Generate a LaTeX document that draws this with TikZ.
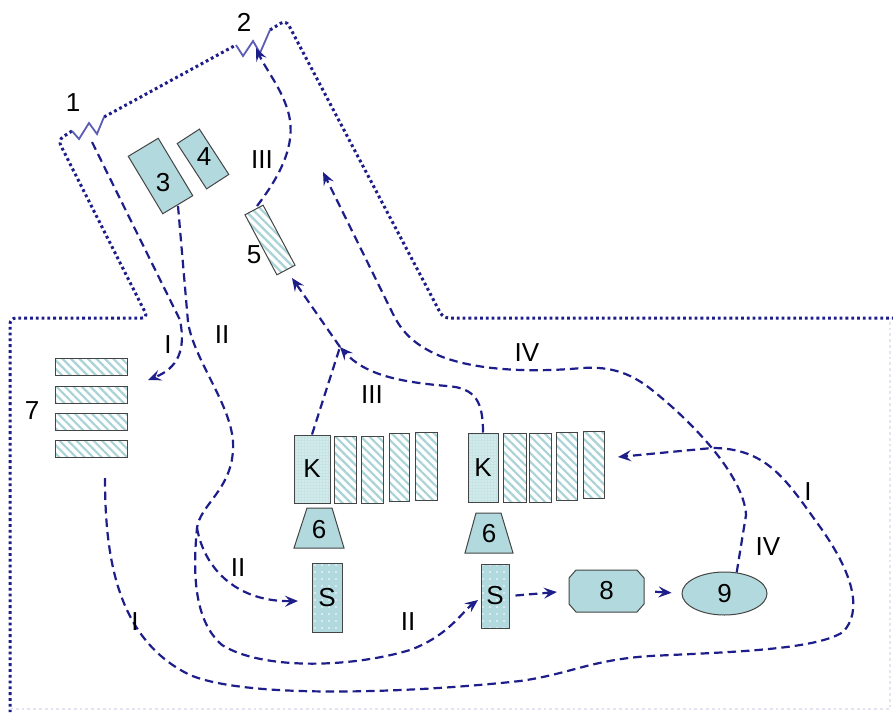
\documentclass[tikz,border=0pt]{standalone}
\usepackage{fontspec}
\setmainfont{Liberation Sans}
\usetikzlibrary{arrows.meta,patterns,patterns.meta,shapes.geometric,shapes.misc}
\definecolor{navy}{HTML}{1E1E8A}
\definecolor{zig}{HTML}{5C5CB4}
\definecolor{teal}{HTML}{B2D9DD}
\definecolor{hatch}{HTML}{A9D3D7}
\definecolor{kfill}{HTML}{C6E4E6}
\definecolor{edge}{HTML}{454545}
\tikzset{
  txt/.style={font=\fontsize{26}{28}\selectfont, inner sep=0pt},
  solidbox/.style={draw=edge, line width=1pt, fill=teal, inner sep=0pt},
  hatchbox/.style={draw=edge, line width=1pt, inner sep=0pt, preaction={fill=white},
     pattern={Lines[angle=-45,distance=6pt,line width=2.2pt]}, pattern color=hatch},
  kbox/.style={draw=edge, line width=1pt, inner sep=0pt, preaction={fill=kfill},
     pattern={Dots[radius=0.7pt,distance=3pt]}, pattern color=white},
  sbox/.style={draw=edge, line width=1pt, inner sep=0pt, preaction={fill=teal},
     pattern={Dots[radius=0.8pt,distance=7pt]}, pattern color=white},
  trap/.style={draw=edge, line width=1pt, fill=teal},
  flow/.style={draw=navy, line width=2.2pt, dash pattern=on 8.5pt off 5pt},
  arr/.style={-{Stealth[length=13pt,width=11pt,inset=5pt]}},
  outline/.style={draw=navy, line width=3pt, line cap=butt, dash pattern=on 2.8pt off 3pt},
  zigline/.style={draw=zig, line width=1.8pt, line join=miter},
}
\begin{document}
\begin{tikzpicture}[x=1pt,y=-1pt]
\useasboundingbox (0,0) rectangle (893,712);
\fill[white] (0,0) rectangle (893,712);

% ---------- outline ----------
\draw[outline, rounded corners=6pt] (72,131) -- (58,140) -- (148,318) -- (10,318) -- (10,712);
\draw[outline] (104,117) -- (236,45);
\draw[outline, rounded corners=6pt] (270,30) -- (286,20) -- (443,318) -- (893,318);
\draw[navy!12, line width=2.6pt, line cap=butt, dash pattern=on 2.8pt off 3pt] (10,709) -- (890,709) -- (890,318);
\draw[zigline] (72,131) -- (79,139) -- (89,123) -- (97,134) -- (104,117);
\draw[zigline] (236,45) -- (243,56) -- (253,41) -- (260,53) -- (270,30);
\node[txt] (l1) at (73,103) {1};
\node[txt] (l2) at (244,22) {2};

% ---------- upper components ----------
\node[solidbox, minimum width=35pt, minimum height=67pt, rotate=31] (b3) at (160.5,176) {};
\node[txt] (t3) at (163,183) {3};
\node[solidbox, minimum width=26.5pt, minimum height=54pt, rotate=33] (b4) at (203,159) {};
\node[txt] (t4) at (204,157) {4};
\node[hatchbox, minimum width=20.5pt, minimum height=68pt, rotate=28] (b5) at (270,240) {};
\node[txt] (t5) at (254,255) {5};

% ---------- block 7 ----------
\node[hatchbox, minimum width=72pt, minimum height=17pt] (s71) at (91,366.5) {};
\node[hatchbox, minimum width=72pt, minimum height=17pt] (s72) at (91,395) {};
\node[hatchbox, minimum width=72pt, minimum height=17pt] (s73) at (91,422) {};
\node[hatchbox, minimum width=72pt, minimum height=17pt] (s74) at (91,449) {};
\node[txt] (t7) at (32,411) {7};

% ---------- row 1 ----------
\node[kbox, minimum width=36pt, minimum height=68pt] (k1) at (312,469) {};
\node[txt] at (k1) {K};
\node[hatchbox, minimum width=22pt, minimum height=67pt] (r1a) at (345,469.5) {};
\node[hatchbox, minimum width=22pt, minimum height=67pt] (r1b) at (372,469.5) {};
\node[hatchbox, minimum width=20pt, minimum height=68pt] (r1c) at (399,467) {};
\node[hatchbox, minimum width=22pt, minimum height=68pt] (r1d) at (426,466) {};
\draw[trap] (294,548) -- (307,508) -- (332,508) -- (344,548) -- cycle;
\node[txt] (p1) at (319,530) {6};
\node[sbox, minimum width=30pt, minimum height=69pt] (sa) at (327,597.5) {};
\node[txt] at (sa) {S};

% ---------- row 2 ----------
\node[kbox, minimum width=30pt, minimum height=69pt] (k2) at (483,467.5) {};
\node[txt] at (k2) {K};
\node[hatchbox, minimum width=23pt, minimum height=69pt] (r2a) at (514.5,467.5) {};
\node[hatchbox, minimum width=22pt, minimum height=69pt] (r2b) at (540,467.5) {};
\node[hatchbox, minimum width=21pt, minimum height=68pt] (r2c) at (566.5,466) {};
\node[hatchbox, minimum width=21pt, minimum height=67pt] (r2d) at (593.5,464.5) {};
\draw[trap] (465,553) -- (476,513) -- (501,513) -- (513,553) -- cycle;
\node[txt] (p2) at (489,534) {6};
\node[sbox, minimum width=28pt, minimum height=64pt] (sb) at (495,596) {};
\node[txt] at (sb) {S};
\draw[trap] (569,578) -- (576,570) -- (637,570) -- (644,578) -- (644,604) -- (637,612) -- (576,612) -- (569,604) -- cycle;
\node[txt, minimum width=75pt, minimum height=42pt] (n8) at (606.5,591) {8};
\node[solidbox, ellipse, minimum width=85pt, minimum height=43pt] (n9) at (724.5,593.5) {};
\node[txt] at (n9) {9};

% ---------- flows ----------
\coordinate (m) at (340,347);
\coordinate (j) at (197,528);
% I
\draw[flow, arr] (92,142) -- (180,320) .. controls (186,350) and (178,368) .. (148,380);
\draw[flow, arr] (105,478) .. controls (105,560) and (118,640) .. (190,675)
   .. controls (250,700) and (420,692) .. (520,681)
   .. controls (570,674) and (590,660) .. (650,656)
   .. controls (730,652) and (815,650) .. (843,632)
   .. controls (862,612) and (856,575) .. (815,520)
   .. controls (785,478) and (765,448) .. (712,448) -- (618,457);
% II
\draw[flow, arr] (178,206) -- (188,322) .. controls (194,362) and (236,410) .. (233,450)
   .. controls (231,490) and (200,505) .. (j)
   .. controls (193,570) and (193,620) .. (222,645)
   .. controls (262,670) and (350,668) .. (410,650)
   .. controls (448,636) and (462,612) .. (478,600);
\draw[flow, arr] (j) .. controls (205,572) and (240,602) .. (298,601);
% III
\draw[flow] (k1.north) -- (m);
\draw[flow, arr] (k2.north) .. controls (483,402) and (476,388) .. (447,386)
   .. controls (400,382) and (365,375) .. (m);
\draw[flow, arr] (m) -- (292,278);
\draw[flow, arr] (257,206) .. controls (280,176) and (296,145) .. (289,115)
   .. controls (283,90) and (266,70) .. (256,48);
% IV
\draw[flow, arr] (n9.60) -- (746,515) .. controls (744,475) and (690,420) .. (652,390)
   .. controls (632,374) and (612,366) .. (582,368)
   .. controls (540,372) and (480,372) .. (440,356)
   .. controls (412,344) and (401,330) .. (393,314) -- (323,172);
% S -> 8 -> 9
\draw[flow, arr, shorten <=6pt, shorten >=12pt] (sb.east) -- (n8.west);
\draw[flow, arr, shorten <=11pt, shorten >=10pt] (n8.east) -- (n9.west);

% ---------- route labels ----------
\node[txt] at (168,345) {I};
\node[txt] at (135,622) {I};
\node[txt] at (808,492) {I};
\node[txt] at (222,335) {II};
\node[txt] at (238,568) {II};
\node[txt] at (408,622) {II};
\node[txt] at (262,160) {III};
\node[txt] at (372,395) {III};
\node[txt] at (527,353) {IV};
\node[txt] at (768,547) {IV};
\end{tikzpicture}
\end{document}
